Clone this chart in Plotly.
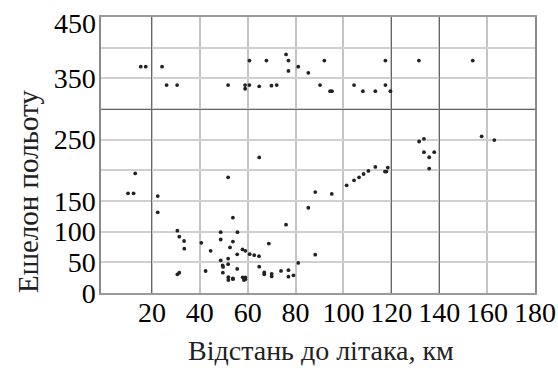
import plotly.graph_objects as go

# distance to aircraft, km
dist_km = [
    15.3, 17.4, 24.2, 26.1, 30.5, 51.8, 58.9, 60.7, 58.9, 60.7, 64.8, 67.8, 69.9, 72.1,
    76.0, 77.0, 77.0, 81.1, 85.3, 90.2, 92.0, 94.4, 95.2, 104.4, 108.1, 113.3, 117.5,
    117.5, 119.6, 131.5, 154.0,
    10.0, 12.3, 13.0, 22.4, 22.4, 51.8, 64.8, 76.0, 85.3, 88.2, 95.1, 101.3, 104.4,
    106.5, 108.4, 110.4, 113.3, 117.3, 117.9, 118.5, 131.6, 133.6, 133.6, 137.9, 135.8,
    135.8, 157.7, 163.0,
    30.6, 31.4, 33.4, 33.5, 30.6, 31.4, 40.6, 42.4, 44.5, 48.7, 55.7, 48.7, 53.8, 53.8,
    52.6, 55.6, 57.8, 59.0, 60.8, 62.7, 64.7, 48.7, 51.8, 51.8, 49.5, 49.7, 55.6, 49.6,
    51.9, 51.9, 53.8, 53.8, 57.9, 58.4, 59.0, 59.0, 64.8, 66.9, 66.9, 70.0, 70.0, 73.9,
    77.0, 77.0, 79.1, 81.1, 88.2, 68.8,
]
# flight level
flight_level = [
    369, 369, 369, 339, 339, 339, 339, 339, 333, 379, 337, 379, 338, 339,
    389, 379, 362, 369, 359, 339, 379, 329, 329, 339, 329, 329, 379,
    339, 329, 379, 379,
    162.5, 162.5, 195, 158, 131.6, 188.6, 221, 111.4, 139, 164.5, 161.5, 175.6, 183.7,
    188.6, 194, 199, 205.5, 198, 198, 204.5, 247, 251.3, 229.6, 229.6, 221.3,
    202.8, 255.5, 249.3,
    101.6, 91.8, 84.8, 72.3, 30.5, 33.1, 81.8, 35.9, 68.7, 99.2, 99.2, 87.2, 122.8, 83.8,
    74.3, 63, 71.1, 68.7, 63.3, 61.6, 60, 53.2, 56, 47, 45, 42.5, 39.3, 33.1,
    25.8, 21.2, 24, 22.5, 25.6, 21.2, 22.3, 25.6, 43, 33.5, 30.5, 31.2, 27, 36,
    37.2, 26.6, 28.8, 49, 62.5, 80.6,
]

x_tick_vals = [20, 40, 60, 80, 100, 120, 140, 160, 180]
x_tick_text = ["20", "40", "60", "80", "100", "120", "140", "160", "180"]
y_tick_vals = [0, 50, 100, 150, 200, 250, 300, 350, 400, 450]
y_tick_text = ["0", "50", "100", "150", "", "250", "", "350", "", ""]
y_top_label = "450"  # drawn slightly below its grid line, as in the original
x_dark_grid = [20, 120, 140]
y_dark_grid = [300]

x_title = "Відстань до літака, км"
y_title = "Ешелон польоту"

serif = "Liberation Serif, Times New Roman, serif"

fig = go.Figure()
fig.add_trace(go.Scatter(
    x=dist_km, y=flight_level, mode="markers",
    marker=dict(size=3.8, color="#222222"),
    showlegend=False, xaxis="x", yaxis="y", cliponaxis=False,
))
# invisible trace to activate overlay axes for darker grid lines
fig.add_trace(go.Scatter(x=[None], y=[None], xaxis="x2", yaxis="y2",
                         showlegend=False, hoverinfo="skip"))

x_range = [-1.3, 180]
y_range = [0, 450]

tickfont = dict(family=serif, size=28, color="black")

fig.update_layout(
    width=558, height=370,
    margin=dict(l=101, r=23, t=17, b=77),
    paper_bgcolor="white", plot_bgcolor="white",
    font=dict(family=serif, size=28, color="black"),
    xaxis=dict(
        range=x_range, tickmode="array", tickvals=x_tick_vals, ticktext=x_tick_text,
        showgrid=True, gridcolor="#c4c4c4", gridwidth=1.5,
        showline=True, linecolor="#9a9a9a", linewidth=1.5, mirror=True,
        zeroline=False, ticks="", ticklabelstandoff=-6, tickfont=tickfont,
        automargin=False, ticklabeloverflow="allow",
    ),
    yaxis=dict(
        range=y_range, tickmode="array", tickvals=y_tick_vals, ticktext=y_tick_text,
        showgrid=True, gridcolor="#d0d0d0", gridwidth=1.5,
        showline=True, linecolor="#8a8a8a", linewidth=1.5, mirror=True,
        zeroline=False, ticks="", ticklabelstandoff=-2, tickfont=tickfont,
        automargin=False, ticklabeloverflow="allow",
    ),
    xaxis2=dict(
        range=x_range, overlaying="x", tickmode="array", tickvals=x_dark_grid,
        showticklabels=False, showgrid=True, gridcolor="#666666", gridwidth=1,
        zeroline=False, showline=False, automargin=False,
    ),
    yaxis2=dict(
        range=y_range, overlaying="y", tickmode="array", tickvals=y_dark_grid,
        showticklabels=False, showgrid=True, gridcolor="#666666", gridwidth=1,
        zeroline=False, showline=False, automargin=False,
    ),
    annotations=[
        dict(text=y_top_label, xref="paper", yref="y", x=0, y=y_range[1],
             xanchor="right", yanchor="middle", xshift=-3, yshift=-6,
             showarrow=False, font=tickfont),
        dict(text=x_title, xref="paper", yref="paper", x=0.506, y=-0.207,
             xanchor="center", yanchor="middle", showarrow=False,
             font=dict(family=serif, size=28, color="#222222")),
        dict(text=y_title, xref="paper", yref="paper", x=-0.168, y=0.366,
             xanchor="center", yanchor="middle", textangle=-90, showarrow=False,
             font=dict(family=serif, size=29, color="#222222")),
    ],
)

fig.write_html("out.html", config={"displayModeBar": False},
               post_script="document.body.style.margin='0';")
